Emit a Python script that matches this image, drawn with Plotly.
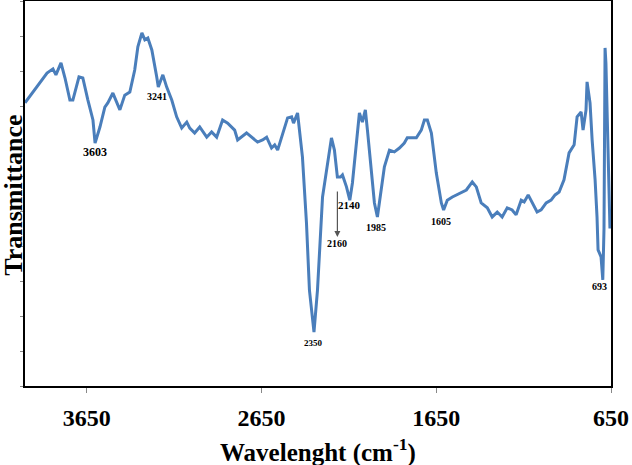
import plotly.graph_objects as go

# FTIR spectrum (wavenumber in cm-1, transmittance in arbitrary units)
wavenumber = [
    4004, 3918, 3878, 3844, 3827, 3798, 3775, 3747, 3730, 3695, 3673, 3644, 3615, 3603,
    3575, 3547, 3530, 3501, 3478, 3461, 3433, 3404, 3376, 3358, 3335, 3318, 3301, 3278,
    3250, 3241, 3215, 3193, 3164, 3136, 3107, 3078, 3061, 3033, 3004, 2964, 2936, 2907,
    2873, 2844, 2804, 2787, 2736, 2701, 2673, 2644, 2621, 2593, 2575, 2558, 2530, 2501,
    2478, 2467, 2444, 2416, 2393, 2376, 2350, 2330, 2301, 2273, 2250, 2233, 2216, 2198,
    2187, 2164, 2145, 2130, 2107, 2090, 2073, 2056, 2044, 2021, 2004, 1987, 1964, 1947,
    1918, 1890, 1861, 1833, 1816, 1764, 1736, 1718, 1701, 1678, 1650, 1621, 1608, 1587,
    1558, 1518, 1478, 1444, 1421, 1393, 1358, 1330, 1301, 1273, 1244, 1216, 1193, 1164,
    1147, 1124, 1101, 1073, 1050, 1021, 993, 970, 947, 919, 890, 861, 844, 821, 810, 793,
    787, 770, 758, 741, 730, 724, 707, 697, 690, 684, 679, 672, 664, 656,
]
transmittance = [
    80.9, 86.6, 89.4, 90.6, 88.9, 92.3, 88.0, 81.7, 81.7, 88.3, 88.0, 81.7, 76.0, 69.4,
    74.0, 79.7, 80.9, 83.7, 80.9, 78.9, 83.1, 84.0, 90.3, 96.9, 100.9, 98.9, 99.4, 96.0,
    88.3, 85.4, 88.9, 85.4, 81.7, 76.9, 73.7, 75.4, 73.7, 72.3, 74.0, 71.1, 72.6, 71.1,
    76.0, 75.1, 73.1, 70.3, 72.3, 70.9, 69.7, 70.3, 71.1, 68.0, 68.9, 67.4, 72.3, 76.6,
    76.9, 75.1, 78.0, 65.4, 46.6, 27.4, 15.4, 27.4, 54.0, 63.7, 70.9, 67.4, 59.7, 59.7,
    60.3, 56.9, 53.1, 58.0, 70.3, 78.0, 75.4, 78.9, 73.1, 60.9, 52.3, 48.3, 56.0, 62.6,
    67.4, 66.9, 68.0, 69.4, 70.9, 70.9, 73.1, 76.0, 76.0, 72.3, 60.9, 52.3, 50.3, 53.1,
    54.0, 55.1, 56.0, 58.3, 56.9, 52.3, 50.9, 48.3, 49.7, 48.3, 50.9, 50.3, 48.9, 53.1,
    52.6, 54.6, 52.3, 49.7, 50.3, 52.3, 53.1, 54.6, 55.4, 58.9, 66.6, 68.9, 76.9, 78.3, 73.1, 78.9,
    86.9, 80.9, 70.3, 58.9, 48.3, 38.9, 36.9, 30.3, 45.0, 96.6, 92.3, 80.0, 60.0, 45.0,
]

# peak labels: text, wavenumber, transmittance, font size
peak_text = ["3603", "3241", "2350", "2140", "1985", "1605", "693", "2160"]
peak_x = [3604, 3250, 2353, 2147, 1993, 1621, 718, 2216]
peak_y = [66.9, 82.6, 12.3, 51.7, 45.4, 46.9, 28.3, 40.6]
peak_size = [12, 10, 9, 11, 10, 10, 10, 10]

FONT = "Liberation Serif, Times New Roman, serif"
BLUE = "#4a7ebb"

fig = go.Figure()
fig.add_trace(go.Scatter(
    x=wavenumber, y=transmittance, mode="lines",
    line=dict(color=BLUE, width=3), showlegend=False,
))

for txt, x, y, s in zip(peak_text, peak_x, peak_y, peak_size):
    fig.add_annotation(x=x, y=y, text=f"<b>{txt}</b>", showarrow=False,
                       font=dict(family=FONT, size=s, color="black"))

# arrow pointing down to the 2160 label
fig.add_annotation(x=2216, y=42.6, ax=2216, ay=56.0, axref="x", ayref="y",
                   text="", showarrow=True, arrowhead=2, arrowsize=1,
                   arrowwidth=1.2, arrowcolor="#555555")

# axis titles as paper annotations so the plot area stays put
fig.add_annotation(x=0.5, y=-0.168, xref="paper", yref="paper",
                   xanchor="center", yanchor="middle",
                   text="<b>Wavelenght (cm<sup>-1</sup>)</b>", showarrow=False,
                   font=dict(family=FONT, size=25, color="black"))
fig.add_annotation(x=-0.02, y=0.495, xref="paper", yref="paper",
                   xanchor="center", yanchor="middle",
                   text="<b>Transmittance</b>", showarrow=False, textangle=-90,
                   font=dict(family=FONT, size=26, color="black"))

fig.update_layout(
    width=632, height=465,
    margin=dict(l=25, r=21, t=1, b=79),
    plot_bgcolor="white", paper_bgcolor="white",
    font=dict(family=FONT, color="black"),
)
fig.update_xaxes(
    range=[4004, 650], tickvals=[3650, 2650, 1650, 650],
    ticktext=["<b>3650</b>", "<b>2650</b>", "<b>1650</b>", "<b>650</b>"],
    tickfont=dict(size=24, family=FONT), ticks="outside", ticklen=5,
    ticklabelstandoff=4, tickcolor="#888888", showgrid=False, zeroline=False,
    showline=True, linecolor="black", linewidth=2, mirror=True, automargin=False,
)
fig.update_yaxes(
    range=[0, 110], dtick=10, showticklabels=False, ticks="outside",
    ticklen=3, tickcolor="#888888", showgrid=False, zeroline=False,
    showline=True, linecolor="black", linewidth=2, mirror=True, automargin=False,
)

# drop the default page margin so the figure sits at the window's corner
fig.write_html("out.html", config={"displayModeBar": False},
               post_script="document.body.style.margin='0';document.body.style.overflow='hidden';")
